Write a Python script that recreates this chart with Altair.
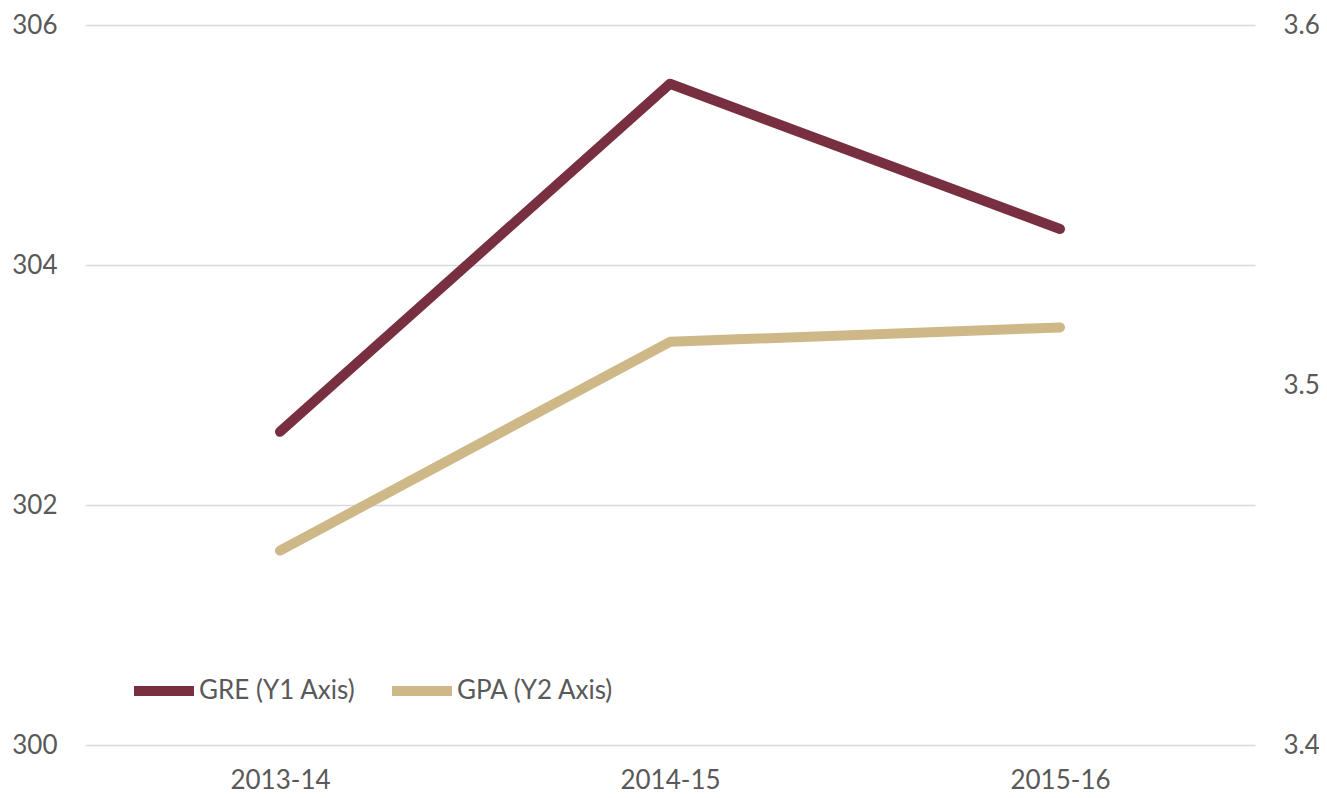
import altair as alt
import pandas as pd

years = ["2013-14", "2014-15", "2015-16"]
gre = [302.61, 305.51, 304.30]
gpa = [3.454, 3.512, 3.516]
series_names = ["GRE (Y1 Axis)", "GPA (Y2 Axis)"]
colors = ["#782F40", "#CEB888"]

df = pd.DataFrame({"year": years, "gre": gre, "gpa": gpa})
df_gre = df.assign(series=series_names[0])
df_gpa = df.assign(series=series_names[1])

FONT = "Lato"
FS = 26
x_enc = alt.X("year:N", sort=years, title=None,
              scale=alt.Scale(type="point", padding=0.5),
              axis=alt.Axis(labelAngle=0, ticks=False, domain=False, grid=False,
                            labelPadding=22, labelFontSize=FS, labelColor="#595959",
                            labelFont=FONT))
color_enc = alt.Color("series:N",
                      scale=alt.Scale(domain=series_names, range=colors),
                      legend=alt.Legend(title=None, orient="none", direction="horizontal",
                                        legendX=44, legendY=631,
                                        symbolType="stroke", symbolSize=3600,
                                        symbolStrokeWidth=10, labelOffset=0,
                                        columnPadding=16, labelFontSize=FS,
                                        labelColor="#595959", labelFont=FONT))

line_gre = alt.Chart(df_gre).mark_line(strokeWidth=10, strokeCap="round", strokeJoin="round").encode(
    x=x_enc,
    y=alt.Y("gre:Q", title=None,
            scale=alt.Scale(domain=[300, 306], nice=False, zero=False),
            axis=alt.Axis(values=[300, 302, 304, 306], ticks=False, domain=False,
                          grid=True, gridColor="#D9D9D9", gridWidth=1.5,
                          labelPadding=28, labelFontSize=FS, labelColor="#595959",
                          labelFont=FONT, orient="left")),
    color=color_enc,
)

line_gpa = alt.Chart(df_gpa).mark_line(strokeWidth=10, strokeCap="round", strokeJoin="round").encode(
    x=x_enc,
    y=alt.Y("gpa:Q", title=None,
            scale=alt.Scale(domain=[3.4, 3.6], nice=False, zero=False),
            axis=alt.Axis(values=[3.4, 3.5, 3.6], format=".1f", ticks=False, domain=False,
                          grid=False, labelPadding=28, labelFontSize=FS,
                          labelColor="#595959", labelFont=FONT, orient="right")),
    color=color_enc,
)

chart = alt.layer(line_gre, line_gpa).resolve_scale(
    y="independent", color="shared"
).properties(
    width=1170, height=720,
    autosize=alt.AutoSizeParams(type="none"),
    padding={"left": 77, "top": 17, "right": 64, "bottom": 52},
).configure_view(stroke=None)

chart.save("out.html", embed_options={"renderer": "svg", "actions": False})
